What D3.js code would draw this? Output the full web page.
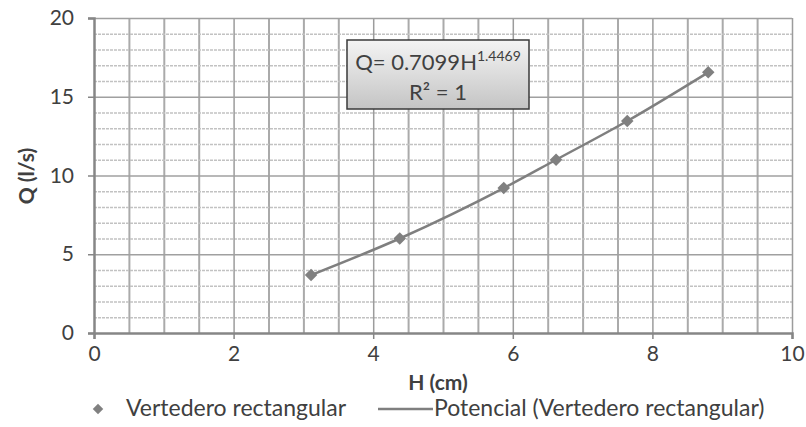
<!DOCTYPE html>
<html><head><meta charset="utf-8">
<script src="https://cdn.jsdelivr.net/npm/d3@7"></script>
<style>body{margin:0;background:#fff;} svg{display:block;font-family:Lato,"Open Sans",sans-serif;}</style>
</head><body>
<script>
const H = [3.11, 4.38, 5.87, 6.62, 7.64, 8.80];
const Q = [3.68, 6.00, 9.20, 11.00, 13.46, 16.55];
const xTicks = [0, 2, 4, 6, 8, 10];
const yTicks = [0, 5, 10, 15, 20];
const minorX = [0.5,1,1.5,2.5,3,3.5,4.5,5,5.5,6.5,7,7.5,8.5,9,9.5];
const minorY = [1,2,3,4,6,7,8,9,11,12,13,14,16,17,18,19];
const seriesName = "Vertedero rectangular";
const trendName = "Potencial (Vertedero rectangular)";
const eqMain = "Q= 0.7099H", eqExp = "1.4469", r2 = "R² = 1";

const W = 806, Ht = 427;
const m = {l:94, r:14, t:18, b:94};
const svg = d3.select("body").append("svg").attr("width", W).attr("height", Ht);
const x = d3.scaleLinear().domain([0,10]).range([m.l, W-m.r]);
const y = d3.scaleLinear().domain([0,20]).range([Ht-m.b, m.t]);

const gv = svg.append("g").attr("transform",`translate(0,${y(20)})`)
  .call(d3.axisBottom(x).tickValues(minorX).tickSize(y(0)-y(20)).tickFormat(""));
gv.select(".domain").remove();
gv.selectAll(".tick line").attr("stroke","#aaaaaa").attr("stroke-width",2);

const gh = svg.append("g").attr("transform",`translate(${x(0)},0)`)
  .call(d3.axisRight(y).tickValues(minorY).tickSize(x(10)-x(0)).tickFormat(""));
gh.select(".domain").remove();
gh.selectAll(".tick line").attr("stroke","#c2c2c2").attr("stroke-width",1.6).attr("stroke-dasharray","3,1");

const gmx = svg.append("g").attr("transform",`translate(0,${y(20)})`)
  .call(d3.axisBottom(x).tickValues(xTicks.slice(1)).tickSize(y(0)-y(20)).tickFormat(""));
gmx.select(".domain").remove();
gmx.selectAll(".tick line").attr("stroke","#9c9c9c").attr("stroke-width",1.5);
const gmy = svg.append("g").attr("transform",`translate(${x(0)},0)`)
  .call(d3.axisRight(y).tickValues(yTicks.slice(1)).tickSize(x(10)-x(0)).tickFormat(""));
gmy.select(".domain").remove();
gmy.selectAll(".tick line").attr("stroke","#a0a0a0").attr("stroke-width",1.5);

const FONT = "Lato,'Open Sans',sans-serif";
const xa = svg.append("g").attr("transform",`translate(0,${y(0)})`)
 .call(d3.axisBottom(x).tickValues(xTicks).tickSize(6).tickPadding(16));
const ya = svg.append("g").attr("transform",`translate(${x(0)},0)`)
 .call(d3.axisLeft(y).tickValues(yTicks).tickSize(6).tickPadding(14));
[xa,ya].forEach(a=>{
  a.select(".domain").attr("stroke","#868686").attr("stroke-width",2.5);
  a.selectAll(".tick line").attr("stroke","#868686").attr("stroke-width",1.5);
  a.selectAll("text").attr("fill","#404040").style("font-size","21px").style("font-family",FONT);
});
xa.selectAll("text").attr("dy","0.3em");

const pts = H.map((h,i)=>[h,Q[i]]);
svg.append("path").datum(pts)
 .attr("fill","none").attr("stroke","#7f7f7f").attr("stroke-width",2.5)
 .attr("d", d3.line().x(d=>x(d[0])).y(d=>y(d[1])).curve(d3.curveMonotoneX));
const sym = d3.symbol().type(d3.symbolDiamond2).size(100);
svg.selectAll("path.pt").data(pts).join("path").attr("class","pt")
 .attr("transform",d=>`translate(${x(d[0])},${y(d[1])})`)
 .attr("d",sym).attr("fill","#808080");

svg.append("text").attr("x",438).attr("y",390).attr("text-anchor","middle")
 .attr("font-weight","bold").attr("font-size","21px").attr("fill","#404040").text("H (cm)");
svg.append("text").attr("transform","translate(34,176) rotate(-90)").attr("text-anchor","middle")
 .attr("font-weight","bold").attr("font-size","21px").attr("fill","#404040").text("Q (l/s)");

const defs = svg.append("defs");
const gr = defs.append("linearGradient").attr("id","gb").attr("x1",0).attr("y1",0).attr("x2",0).attr("y2",1);
gr.append("stop").attr("offset","0%").attr("stop-color","#f4f4f4");
gr.append("stop").attr("offset","100%").attr("stop-color","#c4c4c4");
svg.append("rect").attr("x",347).attr("y",40).attr("width",182).attr("height",69)
 .attr("fill","url(#gb)").attr("stroke","#3a3a3a").attr("stroke-width",1.5);
const t1 = svg.append("text").attr("x",438).attr("y",70).attr("text-anchor","middle")
 .attr("font-size","22px").attr("fill","#404040");
t1.append("tspan").text(eqMain);
t1.append("tspan").attr("font-size","14px").attr("dy","-9").text(eqExp);
svg.append("text").attr("x",438).attr("y",100).attr("text-anchor","middle")
 .attr("font-size","22px").attr("fill","#404040").text(r2);

svg.append("path").attr("transform","translate(98,409)").attr("d",d3.symbol().type(d3.symbolDiamond2).size(70)).attr("fill","#808080");
svg.append("text").attr("x",126).attr("y",416).attr("font-size","23px").attr("fill","#404040").text(seriesName);
svg.append("line").attr("x1",378).attr("x2",433).attr("y1",409).attr("y2",409).attr("stroke","#7f7f7f").attr("stroke-width",2.5);
svg.append("text").attr("x",434).attr("y",416).attr("font-size","23px").attr("fill","#404040").text(trendName);
</script>
</body></html>
